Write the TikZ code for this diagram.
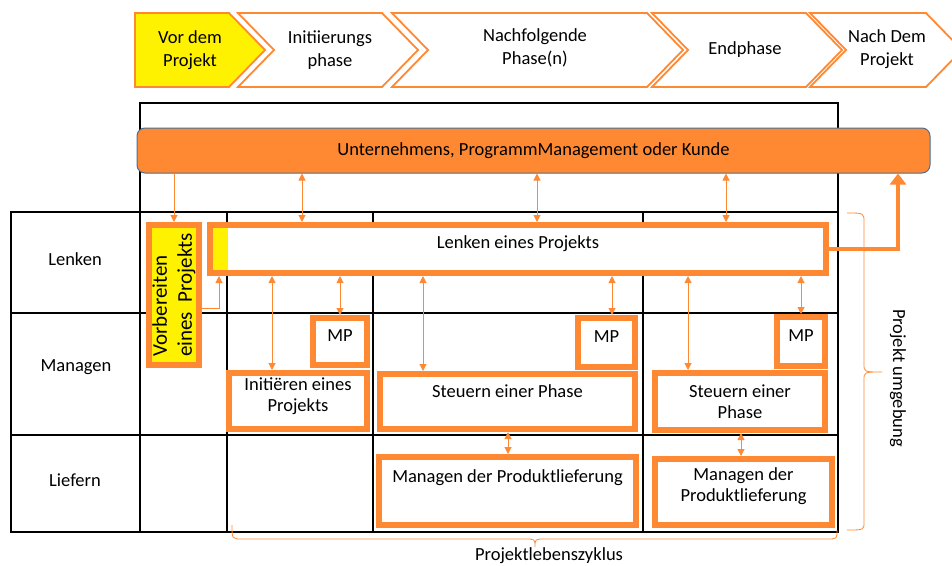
\documentclass[tikz,border=0pt]{standalone}
\usepackage{fontspec}
\setmainfont{Carlito}
\usetikzlibrary{arrows, arrows.meta}
\definecolor{pmorange}{RGB}{255,137,51}
\definecolor{pmblue}{RGB}{65,113,156}

\begin{document}
\begin{tikzpicture}[x=1pt, y=-1pt,
    font=\fontsize{18.5}{21}\selectfont,
    phase/.style={draw=pmorange, line width=1.8pt, fill=white, line join=miter},
    phasetext/.style={align=center, font=\fontsize{18.5}{22.5}\selectfont},
    procbox/.style={rectangle, draw=pmorange, line width=6pt, fill=white, inner sep=2pt, align=center},
    link/.style={draw=pmorange, line width=1pt, {Triangle[width=7pt,length=7pt]}-{Triangle[width=7pt,length=7pt]}},
    feed/.style={draw=pmorange, line width=1pt, -{Triangle[width=7pt,length=7pt]}},
    tableline/.style={black, line width=1.2pt},
    curly/.style={draw=pmorange, line width=0.8pt}]
\clip (0,0) rectangle (952,565);

\draw [phase, fill=yellow] (135,13) -- (229,13) -- (265,50) -- (229,87) -- (135,87) -- cycle;
\draw [phase] (238,13) -- (382,13) -- (418,50) -- (382,87) -- (238,87) -- (274,50) -- cycle;
\draw [phase] (392,13) -- (647,13) -- (683,50) -- (647,87) -- (392,87) -- (428,50) -- cycle;
\draw [phase] (652,13) -- (806,13) -- (842,50) -- (806,87) -- (652,87) -- (688,50) -- cycle;
\draw [phase] (810,13) -- (926,13) -- (962,50) -- (926,87) -- (810,87) -- (846,50) -- cycle;
\node [phasetext] (vordem) at (190,50) {Vor dem\\Projekt};
\node [phasetext] (initphase) at (330,50) {Initiierungs\\phase};
\node [phasetext] (folgephase) at (535,48) {Nachfolgende\\Phase(n)};
\node [phasetext] (endphase) at (745,50) {Endphase};
\node [phasetext] (nachdem) at (887,49) {Nach Dem\\Projekt};

\draw [tableline] (140,103) rectangle (838,212);
\draw [tableline] (11,212) rectangle (838,532);
\draw [tableline] (11,313) -- (838,313) (11,435) -- (838,435);
\draw [tableline] (140,212) -- (140,532) (227,212) -- (227,532) (373,212) -- (373,532) (643,212) -- (643,532);

\node (rowlenken) at (75,259) {Lenken};
\node (rowmanagen) at (76,367) {Managen};
\node (rowliefern) at (75,480) {Liefern};

\node [draw=pmblue, fill=pmorange, rounded corners=8pt, line width=1pt, minimum width=793pt, minimum height=45pt] (umfeld) at (533.5,150.5) {Unternehmens, ProgrammManagement oder Kunde};

\node [procbox, fill=yellow, rotate=90, minimum width=140pt, minimum height=50pt, align=left, font=\fontsize{21}{25}\selectfont] (vorbereiten) at (174,295) {Vorbereiten\\eines~~Projekts};
\node [procbox, minimum width=616pt, minimum height=48pt, text depth=14pt] (lenken) at (518,249) {Lenken eines Projekts};
\fill [yellow] ([shift={(6pt,-6pt)}]lenken.north west) rectangle ([shift={(21pt,6pt)}]lenken.south west);

\node [procbox, minimum width=54pt, minimum height=47pt, text depth=12pt] (mpa) at (340,341.5) {MP};
\node [procbox, minimum width=57pt, minimum height=49pt, text depth=12pt] (mpb) at (606.5,342.5) {MP};
\node [procbox, minimum width=48pt, minimum height=49pt, text depth=12pt] (mpc) at (801,341.5) {MP};

\node [procbox, minimum width=138pt, minimum height=56pt, text depth=12pt] (initiieren) at (298,401) {Initiëren eines\\Projekts};
\node [procbox, minimum width=255pt, minimum height=55pt, text depth=21pt] (steuerna) at (507.5,401.5) {Steuern einer Phase};
\node [procbox, minimum width=170pt, minimum height=57pt] (steuernb) at (740,401.5) {Steuern einer\\Phase};

\node [procbox, minimum width=257pt, minimum height=68pt, text depth=30pt] (liefera) at (507.5,491) {Managen der Produktlieferung};
\node [procbox, minimum width=177pt, minimum height=66pt, text depth=15pt] (lieferb) at (743.5,492) {Managen der\\Produktlieferung};

\draw [feed] (umfeld.south -| vorbereiten.east) -- (vorbereiten.east);
\draw [link] (umfeld.south -| 302,0) -- (lenken.north -| 302,0);
\draw [link] (umfeld.south -| 537,0) -- (lenken.north -| 537,0);
\draw [link] (umfeld.south -| 726,0) -- (lenken.north -| 726,0);
\draw [feed] ([yshift=-13pt]vorbereiten.south) -| ([xshift=12pt]lenken.south west);

\draw [link] (lenken.south -| 272,0) -- (initiieren.north -| 272,0);
\draw [link] (lenken.south -| mpa.north) -- (mpa.north);
\draw [link] (lenken.south -| 423,0) -- (steuerna.north -| 423,0);
\draw [link] (lenken.south -| 612,0) -- (mpb.north -| 612,0);
\draw [link] (lenken.south -| 688,0) -- (steuernb.north -| 688,0);
\draw [link] (lenken.south -| mpc.north) -- (mpc.north);
\draw [link] (steuerna.south -| 508,0) -- (liefera.north -| 508,0);
\draw [link] (steuernb.south -| 741,0) -- (lieferb.north -| 741,0);

\draw [pmorange, line width=4pt, -{Triangle[width=16pt,length=11pt]}] (lenken.east) -| (umfeld.south -| 898,0);

\draw [curly] (847,213) .. controls (864,213) .. (864,222) -- (864,364) .. controls (864,372) .. (882,372) .. controls (864,372) .. (864,380) -- (864,522) .. controls (864,530) .. (847,530);
\node [rotate=-90] (umgebung) at (898,378) {Projekt umgebung};
\draw [curly] (232,525) .. controls (232,539) .. (242,539) -- (525,539) .. controls (535,539) .. (535,547) .. controls (535,539) .. (545,539) -- (827,539) .. controls (837,539) .. (837,530);
\node (zyklus) at (549,556) {Projektlebenszyklus};

\end{tikzpicture}
\end{document}
